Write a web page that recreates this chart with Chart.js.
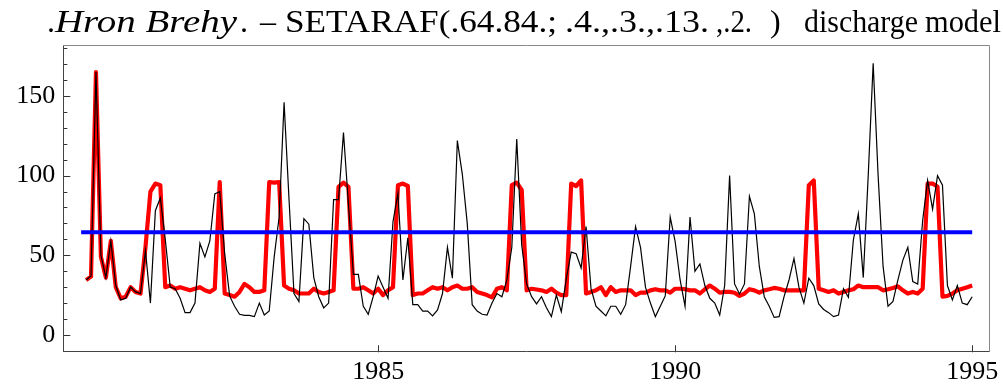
<!DOCTYPE html>
<html>
<head>
<meta charset="utf-8">
<script src="https://cdn.jsdelivr.net/npm/chart.js@4/dist/chart.umd.min.js"></script>
<style>
	body { margin: 0; background: #fff; }
	canvas { display: block; }
</style>
</head>
<body>
<canvas id="chart" width="1003" height="390"></canvas>
<script>
'use strict';

// Monthly discharge, one row per year; value k is at time 1980 + (k + 1) / 12
const startYear = 1980;

const observed = [
	34.5, 37, 165, 50, 36, 59, 31, 22, 23, 30, 27, 26,
	53, 20, 78, 86, 60, 30, 29, 23, 14, 14, 20, 57.5,
	49, 59, 88.5, 90, 51, 24.5, 18, 13, 12.3, 12.3, 11.5, 20,
	12.5, 15, 49, 74, 146, 85, 26, 21, 73, 69.5, 36, 24,
	17, 20, 85, 85, 127, 82, 38, 38, 18, 13, 24, 37,
	30, 23, 71, 89, 34.5, 61, 19, 19, 15, 15, 12, 15.7,
	26, 55, 35.6, 122, 101, 70, 19, 15, 13, 12.5, 20, 26,
	24, 34.5, 55, 123, 56.5, 32, 24, 19.5, 24, 17, 11.5, 25,
	14.6, 35, 52, 51, 42, 68, 29, 18, 15, 12, 18, 18,
	13, 19, 43, 68, 55, 30, 20, 11.5, 18, 24.5, 74, 58.6,
	34.5, 18, 74, 40, 44.6, 31, 23, 20, 12.5, 31, 100, 32,
	25.7, 32, 87, 76, 43, 24, 18, 11, 11.5, 24, 34.5, 48,
	30, 20, 35.6, 31, 19.5, 16, 14, 11.5, 12.5, 29, 23.6, 59.6,
	76, 36, 100, 170.5, 100, 43, 18, 21, 34.5, 47, 55, 33.5,
	32, 72, 97, 79, 100, 94, 31, 22, 31, 20, 19, 24
];

// SETARAF model output for the same months
const modelled = [
	34.5, 36.6, 165, 49, 36, 59, 30, 23, 24, 30, 27, 26,
	55, 90, 95, 94, 30, 31, 29, 30, 29, 28, 29, 30,
	28, 27, 29, 96, 26, 25, 24, 27, 32, 30, 27, 27,
	28, 96, 95.6, 96, 31, 29, 28, 26, 26, 26, 29, 27,
	26, 27, 28, 93, 95.6, 93, 29, 29, 30, 28, 26, 29,
	25, 28, 30, 94, 95, 93.5, 25, 26, 26, 28, 30, 29,
	30, 28, 30, 31, 29, 29, 30, 27, 26, 25, 23.6, 29,
	30, 28, 94, 95.6, 91, 28, 29, 28.5, 28, 27, 29, 26.5,
	25, 25, 95, 93.5, 97, 26, 27, 28, 30, 25, 30, 27,
	28, 28, 28, 25, 26.5, 26.5, 28, 28.7, 28, 28, 26.5, 29,
	29, 28.7, 28, 28, 26, 28.7, 31, 29, 26.5, 27, 27, 26.5,
	24.5, 26, 28.7, 28, 26.5, 28, 28.7, 29.5, 29, 28, 28, 28,
	28, 28, 94, 97, 29, 28, 27, 28, 26, 27, 28, 28.7,
	31, 30, 30, 30, 30, 28, 28.7, 29.5, 30.5, 28, 26, 27,
	26, 29, 95, 95, 93, 24, 24.5, 26, 28, 29, 30, 31
];

// regime threshold
const thresholdLevel = 64.4;
const thresholdYears = [1980, 1995];

const yearTicks = [1985, 1990, 1995];
const valueTicks = [0, 50, 100, 150];
const minorValueTicks = [-10, 0, 10, 20, 30, 40, 50, 60, 70, 80, 90, 100, 110, 120, 130, 140, 150, 160, 170, 180];

// title pieces: left edge and (optionally) the width each piece is squeezed into
const titleParts = [
	{ text: '.', x: 47 },
	{ text: 'Hron Brehy', italic: true, x: 55, w: 182 },
	{ text: '.', x: 240 },
	{ text: '–', x: 260, w: 16 },
	{ text: 'SETARAF(.64.84.;', x: 285, w: 272 },
	{ text: '.4.,.3.,.13.', x: 565, w: 144 },
	{ text: ',.2.', x: 716, w: 36 },
	{ text: ')', x: 770 },
	{ text: 'discharge', x: 804, w: 114 },
	{ text: 'model', x: 925, w: 76 }
];

const serif = '"Liberation Serif", "Times New Roman", serif';

function toPoints(values) {
	return values.map((v, k) => ({ x: startYear + (k + 1) / 12, y: v }));
}

// title with mixed italic parts, drawn straight on the canvas
const titlePlugin = {
	id: 'mixedTitle',
	afterDraw(chart) {
		const ctx = chart.ctx;
		ctx.fillStyle = '#000';
		ctx.textBaseline = 'alphabetic';
		for (const part of titleParts) {
			ctx.save();
			ctx.font = (part.italic ? 'italic ' : '') + '32px ' + serif;
			const natural = ctx.measureText(part.text).width;
			ctx.translate(part.x, 32);
			if (part.w) ctx.scale(part.w / natural, 1);
			ctx.fillText(part.text, 0, 0);
			ctx.restore();
		}
	}
};

// frame plus inward tick marks
const framePlugin = {
	id: 'frame',
	afterDraw(chart) {
		const { ctx, chartArea: a, scales } = chart;
		ctx.save();
		ctx.lineWidth = 1;

		ctx.strokeStyle = '#333';
		ctx.beginPath();
		for (const v of minorValueTicks) {
			const py = Math.round(scales.y.getPixelForValue(v)) + 0.5;
			const len = valueTicks.includes(v) ? 7 : 4;
			ctx.moveTo(a.left, py);
			ctx.lineTo(a.left + len, py);
		}
		for (const t of yearTicks) {
			const px = Math.round(scales.x.getPixelForValue(t)) + 0.5;
			ctx.moveTo(px, a.bottom);
			ctx.lineTo(px, a.bottom - 7);
		}
		ctx.stroke();

		const l = Math.round(a.left) + 0.5, r = Math.round(a.right) - 0.5;
		const t = Math.round(a.top) + 0.5, b = Math.round(a.bottom) - 0.5;
		ctx.strokeStyle = '#888';
		ctx.beginPath();
		ctx.moveTo(l, t); ctx.lineTo(r, t); ctx.lineTo(r, b);
		ctx.stroke();
		ctx.strokeStyle = '#444';
		ctx.beginPath();
		ctx.moveTo(l, t); ctx.lineTo(l, b); ctx.lineTo(r, b);
		ctx.stroke();
		ctx.restore();
	}
};

function createChart() {
	const ctx = document.getElementById('chart');

	return new Chart(ctx, {
		type: 'line',
		data: {
			datasets: [{
				// drawn last (on top)
				data: thresholdYears.map(t => ({ x: t, y: thresholdLevel })),
				borderColor: '#0000ff',
				borderWidth: 4,
				order: 0
			}, {
				data: toPoints(observed),
				borderColor: '#000',
				borderWidth: 1.2,
				order: 1
			}, {
				data: toPoints(modelled),
				borderColor: '#ff0000',
				borderWidth: 4.2,
				borderJoinStyle: 'round',
				order: 2
			}]
		},
		options: {
			responsive: false,
			animation: false,
			devicePixelRatio: 1,
			elements: {
				point: { radius: 0 },
				line: { tension: 0, fill: false }
			},
			layout: {
				padding: { top: 45, right: 13, left: 0, bottom: 0 }
			},
			plugins: {
				legend: { display: false },
				tooltip: { enabled: false },
				title: { display: false }
			},
			scales: {
				x: {
					type: 'linear',
					min: 1979.70,
					max: 1995.30,
					grid: { display: false, drawTicks: false },
					border: { display: false },
					afterBuildTicks: s => { s.ticks = yearTicks.map(v => ({ value: v })); },
					afterFit: s => { s.height = 37.7; },
					ticks: {
						color: '#000',
						padding: 4,
						maxRotation: 0,
						font: { family: serif, size: 26 },
						callback: v => String(v)
					}
				},
				y: {
					min: -10.9,
					max: 182,
					grid: { display: false, drawTicks: false },
					border: { display: false },
					afterBuildTicks: s => { s.ticks = valueTicks.map(v => ({ value: v })); },
					afterFit: s => { s.width = 63.3; },
					ticks: {
						color: '#000',
						padding: 8,
						font: { family: serif, size: 26 },
						callback: v => String(v)
					}
				}
			}
		},
		plugins: [framePlugin, titlePlugin]
	});
}

createChart();
</script>
</body>
</html>
